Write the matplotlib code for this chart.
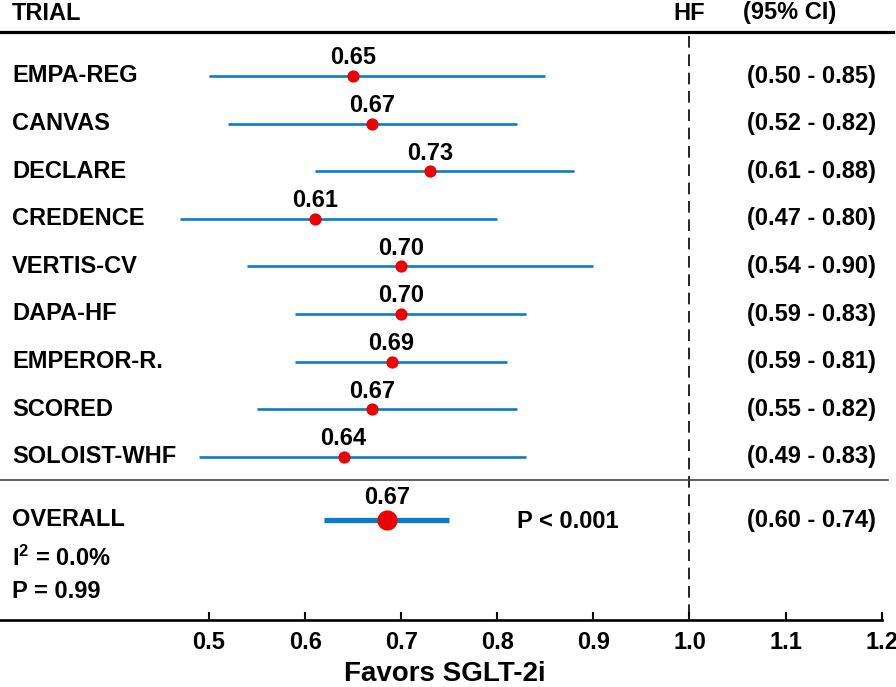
import numpy as np
import matplotlib
matplotlib.use('Agg')
import matplotlib.pyplot as plt
import matplotlib.transforms as mtransforms

plt.rcParams['font.family'] = ['Liberation Sans', 'DejaVu Sans']
plt.rcParams['font.weight'] = 'bold'
plt.rcParams['mathtext.fontset'] = 'custom'
plt.rcParams['mathtext.rm'] = 'Liberation Sans:bold'
plt.rcParams['mathtext.it'] = 'Liberation Sans:bold'
plt.rcParams['mathtext.bf'] = 'Liberation Sans:bold'

# 試驗資料
trials = ['EMPA-REG', 'CANVAS', 'DECLARE', 'CREDENCE', 'VERTIS-CV',
          'DAPA-HF', 'EMPEROR-R.', 'SCORED', 'SOLOIST-WHF']
hr = [0.65, 0.67, 0.73, 0.61, 0.70, 0.70, 0.69, 0.67, 0.64]
ci_low = [0.50, 0.52, 0.61, 0.47, 0.54, 0.59, 0.59, 0.55, 0.49]
ci_high = [0.85, 0.82, 0.88, 0.80, 0.90, 0.83, 0.81, 0.82, 0.83]
hr_text = ['0.65', '0.67', '0.73', '0.61', '0.70', '0.70', '0.69', '0.67', '0.64']
ci_text = ['(0.50 - 0.85)', '(0.52 - 0.82)', '(0.61 - 0.88)', '(0.47 - 0.80)',
           '(0.54 - 0.90)', '(0.59 - 0.83)', '(0.59 - 0.81)', '(0.55 - 0.82)',
           '(0.49 - 0.83)']

# 合併結果 (圖上標記位置與文字)
overall_hr = 0.685
overall_low = 0.62
overall_high = 0.75
overall_hr_text = '0.67'
overall_ci_text = '(0.60 - 0.74)'
overall_p = 'P < 0.001'
het_i2 = 'I$^{2}$ = 0.0%'
het_p = 'P = 0.99'

xticks = [0.5, 0.6, 0.7, 0.8, 0.9, 1.0, 1.1, 1.2]
xtick_labels = ['0.5', '0.6', '0.7', '0.8', '0.9', '1.0', '1.1', '1.2']

BLUE = '#0a7ccb'
RED = '#ee0000'
FS = 17

fig = plt.figure(figsize=(8.96, 6.87), dpi=100)
ax = fig.add_axes([0, 67 / 687, 1, 620 / 687])
xmin, xmax = 0.2825, 1.2149
ax.set_xlim(xmin, xmax)
ax.set_ylim(620, 0)

row_y = 76 + 47.6 * np.arange(len(trials))
y_overall = 520

# 各試驗的信賴區間與點
for i in range(len(trials)):
    y = row_y[i]
    ax.plot([ci_low[i], ci_high[i]], [y, y], color=BLUE, lw=1.9, solid_capstyle='butt', zorder=2)
    ax.plot(hr[i], y, 'o', color=RED, ms=8.8, mec='none', zorder=3)
    ax.text(hr[i], y - 18, hr_text[i], ha='center', va='center', fontsize=FS)
    ax.text(1.06, y, ci_text[i], ha='left', va='center', fontsize=FS)

# 合併
ax.plot([overall_low, overall_high], [y_overall, y_overall], color=BLUE, lw=3.8,
        solid_capstyle='butt', zorder=2)
ax.plot(overall_hr, y_overall, 'o', color=RED, ms=14.5, mec='none', zorder=3)
ax.text(overall_hr, y_overall - 22, overall_hr_text, ha='center', va='center', fontsize=FS)
ax.text(1.06, y_overall, overall_ci_text, ha='left', va='center', fontsize=FS)
ax.text(0.8205, y_overall + 1, overall_p, ha='left', va='center', fontsize=FS)

# 左側標籤
trans = mtransforms.blended_transform_factory(ax.transAxes, ax.transData)
for i in range(len(trials)):
    ax.text(0.0134, row_y[i], trials[i], transform=trans, ha='left', va='center', fontsize=FS)
ax.text(0.0134, y_overall, 'OVERALL', transform=trans, ha='left', va='center', fontsize=FS)
ax.text(0.0134, 558, het_i2, transform=trans, ha='left', va='center', fontsize=FS)
ax.text(0.0134, 592, het_p, transform=trans, ha='left', va='center', fontsize=FS)

# 標題列
ax.text(0.0134, 13, 'TRIAL', transform=trans, ha='left', va='center', fontsize=FS)
ax.text(1.0, 13, 'HF', ha='center', va='center', fontsize=FS)
ax.text(1.056, 13, '(95% CI)', ha='left', va='center', fontsize=FS)

# 線條
ax.plot([xmin, 1.2118], [32, 32], color='black', lw=2.3, clip_on=False)
ax.plot([xmin, 1.2066], [480, 480], color='#444444', lw=1.2, clip_on=False)
ax.plot([1.0, 1.0], [36, 620], color='black', lw=1.2, ls=(0, (7, 4)), zorder=1)

# 座標軸
for s in ['left', 'right', 'top']:
    ax.spines[s].set_visible(False)
ax.spines['bottom'].set_linewidth(1.9)
ax.spines['bottom'].set_bounds(xmin, 1.2)
ax.set_yticks([])
ax.set_xticks(xticks)
ax.set_xticklabels(xtick_labels, fontsize=FS, fontweight='bold')
ax.tick_params(axis='x', direction='in', length=6, width=1.5, pad=8)
ax.text(0.745, 674, 'Favors SGLT-2i', ha='center', va='center', fontsize=20, clip_on=False)

fig.savefig('out.png', dpi=100)
